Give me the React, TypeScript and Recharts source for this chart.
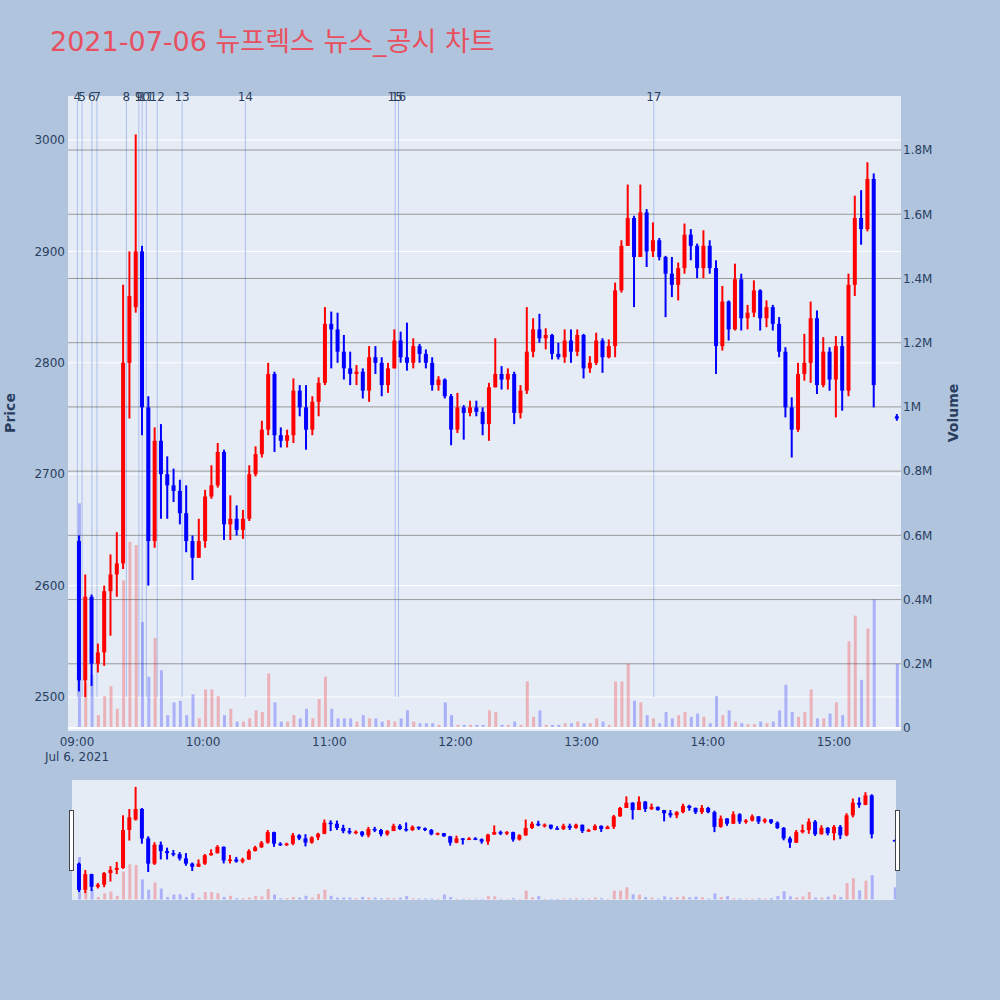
import React from 'react';
import {
  ComposedChart,
  Bar,
  XAxis,
  YAxis,
  CartesianGrid,
  ReferenceLine,
  ReferenceDot,
  Cell,
} from 'recharts';

// 3-minute buckets, stamped at the middle minute; last one is the 15:30 closing auction
const times = [
  '09:01', '09:04', '09:07', '09:10', '09:13', '09:16', '09:19', '09:22', '09:25', '09:28',
  '09:31', '09:34', '09:37', '09:40', '09:43', '09:46', '09:49', '09:52', '09:55', '09:58',
  '10:01', '10:04', '10:07', '10:10', '10:13', '10:16', '10:19', '10:22', '10:25', '10:28',
  '10:31', '10:34', '10:37', '10:40', '10:43', '10:46', '10:49', '10:52', '10:55', '10:58',
  '11:01', '11:04', '11:07', '11:10', '11:13', '11:16', '11:19', '11:22', '11:25', '11:28',
  '11:31', '11:34', '11:37', '11:40', '11:43', '11:46', '11:49', '11:52', '11:55', '11:58',
  '12:01', '12:04', '12:07', '12:10', '12:13', '12:16', '12:19', '12:22', '12:25', '12:28',
  '12:31', '12:34', '12:37', '12:40', '12:43', '12:46', '12:49', '12:52', '12:55', '12:58',
  '13:01', '13:04', '13:07', '13:10', '13:13', '13:16', '13:19', '13:22', '13:25', '13:28',
  '13:31', '13:34', '13:37', '13:40', '13:43', '13:46', '13:49', '13:52', '13:55', '13:58',
  '14:01', '14:04', '14:07', '14:10', '14:13', '14:16', '14:19', '14:22', '14:25', '14:28',
  '14:31', '14:34', '14:37', '14:40', '14:43', '14:46', '14:49', '14:52', '14:55', '14:58',
  '15:01', '15:04', '15:07', '15:10', '15:13', '15:16', '15:19',
  '15:30',
];

const opens = [
  2640, 2515, 2590, 2530, 2540, 2595, 2610, 2620, 2800, 2850,
  2900, 2760, 2640, 2730, 2700, 2690, 2685, 2665, 2640, 2625,
  2640, 2680, 2690, 2720, 2655, 2660, 2650, 2660, 2700, 2718,
  2740, 2790, 2735, 2730, 2735, 2775, 2760, 2740, 2765, 2782,
  2835, 2830, 2810, 2795, 2790, 2792, 2775, 2805, 2800, 2780,
  2795, 2820, 2805, 2800, 2815, 2808, 2800, 2780, 2785, 2770,
  2740, 2760, 2755, 2760, 2756, 2745, 2778, 2790, 2785, 2790,
  2755, 2775, 2810, 2830, 2822, 2825, 2808, 2805, 2820, 2810,
  2825, 2795, 2800, 2820, 2805, 2815, 2865, 2905, 2930, 2895,
  2935, 2900, 2910, 2895, 2880, 2870, 2885, 2915, 2905, 2885,
  2905, 2885, 2815, 2855, 2830, 2875, 2840, 2845, 2865, 2840,
  2850, 2835, 2810, 2760, 2740, 2790, 2800, 2840, 2780, 2810,
  2785, 2815, 2775, 2870, 2930, 2920, 2965,
  2752,
];

const highs = [
  2645, 2610, 2592, 2548, 2600, 2628, 2648, 2870, 2900, 3005,
  2905, 2770, 2742, 2745, 2716, 2705, 2695, 2690, 2645, 2660,
  2686, 2708, 2728, 2722, 2681, 2672, 2668, 2708, 2725, 2748,
  2800, 2792, 2742, 2740, 2786, 2780, 2780, 2770, 2787, 2850,
  2846, 2845, 2825, 2810, 2798, 2795, 2815, 2815, 2805, 2800,
  2830, 2828, 2836, 2822, 2817, 2812, 2805, 2788, 2786, 2772,
  2773, 2762, 2766, 2766, 2760, 2782, 2822, 2797, 2795, 2792,
  2780, 2850, 2840, 2844, 2831, 2826, 2818, 2830, 2830, 2830,
  2826, 2806, 2827, 2822, 2821, 2872, 2910, 2960, 2932, 2960,
  2938, 2926, 2912, 2896, 2895, 2890, 2925, 2920, 2907, 2919,
  2910, 2892, 2869, 2856, 2889, 2880, 2852, 2874, 2866, 2856,
  2852, 2841, 2814, 2769, 2800, 2826, 2855, 2847, 2823, 2814,
  2824, 2824, 2880, 2950, 2955, 2980, 2970,
  2754,
];

const lows = [
  2505, 2500, 2510, 2522, 2528, 2555, 2590, 2615, 2750, 2845,
  2735, 2600, 2634, 2660, 2660, 2675, 2655, 2630, 2605, 2625,
  2634, 2678, 2688, 2641, 2641, 2645, 2642, 2658, 2698, 2715,
  2735, 2720, 2724, 2724, 2728, 2752, 2722, 2735, 2752, 2780,
  2795, 2800, 2785, 2780, 2780, 2768, 2765, 2790, 2770, 2773,
  2795, 2800, 2793, 2795, 2800, 2795, 2775, 2775, 2768, 2726,
  2737, 2731, 2752, 2752, 2735, 2730, 2778, 2776, 2776, 2745,
  2750, 2772, 2805, 2818, 2812, 2803, 2803, 2800, 2800, 2806,
  2786, 2791, 2798, 2791, 2804, 2805, 2863, 2905, 2850, 2895,
  2886, 2895, 2892, 2841, 2859, 2856, 2880, 2892, 2876, 2876,
  2880, 2790, 2811, 2820, 2829, 2829, 2830, 2841, 2829, 2832,
  2829, 2805, 2751, 2715, 2738, 2784, 2782, 2772, 2778, 2775,
  2751, 2757, 2770, 2860, 2906, 2918, 2760,
  2748,
];

const closes = [
  2515, 2590, 2530, 2540, 2595, 2610, 2620, 2800, 2860, 2900,
  2760, 2640, 2730, 2700, 2690, 2685, 2665, 2640, 2625, 2640,
  2680, 2690, 2720, 2655, 2660, 2650, 2660, 2700, 2718, 2740,
  2790, 2735, 2730, 2735, 2775, 2760, 2740, 2765, 2782, 2835,
  2830, 2810, 2795, 2790, 2792, 2775, 2805, 2800, 2780, 2795,
  2820, 2805, 2800, 2815, 2808, 2800, 2780, 2785, 2770, 2740,
  2760, 2755, 2760, 2756, 2745, 2778, 2790, 2785, 2790, 2755,
  2775, 2810, 2830, 2822, 2825, 2808, 2805, 2820, 2810, 2825,
  2795, 2800, 2820, 2805, 2815, 2865, 2905, 2930, 2895, 2935,
  2900, 2910, 2895, 2880, 2870, 2885, 2915, 2905, 2885, 2905,
  2885, 2815, 2855, 2830, 2875, 2840, 2845, 2865, 2840, 2850,
  2835, 2810, 2760, 2740, 2790, 2800, 2840, 2780, 2810, 2785,
  2815, 2775, 2870, 2930, 2920, 2965, 2780,
  2750,
];

// per-minute volume typical of each bucket
const volumes = [
  700000, 140000, 165000, 40000, 100000, 130000, 60000, 460000, 580000, 570000,
  330000, 160000, 280000, 180000, 40000, 80000, 85000, 40000, 105000, 30000,
  120000, 120000, 100000, 40000, 60000, 20000, 20000, 30000, 55000, 50000,
  170000, 80000, 20000, 20000, 40000, 30000, 60000, 30000, 90000, 160000,
  60000, 30000, 30000, 30000, 20000, 40000, 30000, 30000, 20000, 25000,
  20000, 30000, 55000, 20000, 15000, 15000, 15000, 10000, 80000, 40000,
  10000, 10000, 10000, 10000, 10000, 55000, 50000, 10000, 10000, 20000,
  10000, 145000, 35000, 55000, 10000, 10000, 10000, 15000, 15000, 20000,
  15000, 15000, 30000, 20000, 10000, 145000, 145000, 200000, 85000, 80000,
  40000, 30000, 15000, 50000, 30000, 40000, 50000, 35000, 45000, 35000,
  15000, 100000, 40000, 55000, 20000, 15000, 12000, 12000, 20000, 15000,
  20000, 55000, 135000, 50000, 35000, 50000, 120000, 30000, 30000, 45000,
  80000, 40000, 270000, 350000, 150000, 310000, 400000,
  200000,
];

const markerLabels = ['4', '5', '6', '7', '8', '9', '10', '11', '12', '13', '14', '15', '16', '17'];
const markerTimes = [
  '09:00:10', '09:02:25', '09:07:05', '09:09:30', '09:23:30', '09:29:25', '09:31:00',
  '09:33:00', '09:38:10', '09:50:00', '10:20:05', '11:31:20', '11:32:55', '13:34:20',
];

const priceTicks = [2500, 2600, 2700, 2800, 2900, 3000];
const volumeTicks = [0, 200000, 400000, 600000, 800000, 1000000, 1200000, 1400000, 1600000, 1800000];
const timeTicks = ['09:00', '10:00', '11:00', '12:00', '13:00', '14:00', '15:00'];
const dateLabel = 'Jul 6, 2021';
const title = '2021-07-06 뉴프렉스 뉴스_공시 차트';

const FONT = '"DejaVu Sans", Verdana, "Noto Sans CJK KR", sans-serif';
const TEXT = '#2a3f5f';
const UP = '#ff0000';
const DOWN = '#0000ff';

// minutes after 09:00
function toMin(t: string): number {
  const [h, m, s] = t.split(':').map(Number);
  return (h - 9) * 60 + m + (s || 0) / 60;
}

const data = times.map((t, i) => ({
  t: toMin(t),
  o: opens[i],
  h: highs[i],
  l: lows[i],
  c: closes[i],
  v: volumes[i],
  up: closes[i] >= opens[i],
}));

const timeTickMins = timeTicks.map(toMin);
const markers = markerTimes.map((t, i) => ({ t: toMin(t), label: markerLabels[i] }));

const X_DOMAIN: [number, number] = [-4.28, 391.9];
const PRICE_DOMAIN: [number, number] = [2469.5, 3039.5];
const VOL_DOMAIN: [number, number] = [-9300, 1968300];
const MARGIN = { top: 96, right: 39, bottom: 239, left: 8 };

function fmtVol(v: number): string {
  if (v === 0) return '0';
  return `${+(v / 1e6).toFixed(1)}M`;
}

const Candle = (props: any) => {
  const { x, y, width, height, payload } = props;
  if (x == null || y == null || !payload) return null;
  const { o, h, l, c, up } = payload;
  const color = up ? UP : DOWN;
  const span = h - l;
  const hgt = Math.abs(height);
  const ppu = span > 0 ? hgt / span : 0;
  const top = Math.min(y, y + height);
  const bTop = top + (h - Math.max(o, c)) * ppu;
  const bBot = top + (h - Math.min(o, c)) * ppu;
  const cx = x + width / 2;
  return (
    <g>
      <line x1={cx} x2={cx} y1={top} y2={top + hgt} stroke={color} strokeWidth={2} />
      <rect x={x} y={bTop} width={width} height={Math.max(bBot - bTop, 1.5)} fill={color} />
    </g>
  );
};

const TimeTick = (props: any) => {
  const { x, y, payload } = props;
  const idx = timeTickMins.indexOf(payload.value);
  return (
    <g>
      <text x={x} y={y + 15} textAnchor="middle" fill={TEXT} fontSize={12} fontFamily={FONT}>
        {timeTicks[idx]}
      </text>
      {idx === 0 && (
        <text x={x} y={y + 30} textAnchor="middle" fill={TEXT} fontSize={12} fontFamily={FONT}>
          {dateLabel}
        </text>
      )}
    </g>
  );
};

const tickStyle = { fill: TEXT, fontSize: 12, fontFamily: FONT };

const layer: React.CSSProperties = { position: 'absolute', left: 0, top: 0 };

export default function App() {
  return (
    <div style={{ position: 'absolute', left: 0, top: 0, width: 1000, height: 1000, background: '#b0c4de', overflow: 'hidden' }}>
      {/* grid, axes, volume and news markers */}
      <div style={layer}>
        <ComposedChart width={1000} height={1000} data={data} margin={MARGIN}>
          <CartesianGrid yAxisId="price" vertical={false} horizontalValues={priceTicks} stroke="#ffffff" fill="#e5ecf6" fillOpacity={1} />
          <CartesianGrid yAxisId="vol" vertical={false} horizontalValues={volumeTicks.slice(1)} stroke="#999999" />
          <XAxis
            dataKey="t"
            type="number"
            domain={X_DOMAIN}
            allowDataOverflow
            ticks={timeTickMins}
            interval={0}
            tick={<TimeTick />}
            tickLine={false}
            axisLine={false}
            tickSize={0}
            tickMargin={0}
            height={30} />
          <YAxis
            yAxisId="price"
            orientation="left"
            domain={PRICE_DOMAIN}
            allowDataOverflow
            ticks={priceTicks}
            interval={0}
            width={60}
            tick={tickStyle}
            tickLine={false}
            axisLine={false}
            tickSize={0}
            tickMargin={3} />
          <YAxis
            yAxisId="vol"
            orientation="right"
            domain={VOL_DOMAIN}
            allowDataOverflow
            ticks={volumeTicks}
            interval={0}
            width={60}
            tick={{ ...tickStyle, textAnchor: 'start' }}
            tickFormatter={fmtVol}
            tickLine={false}
            axisLine={false}
            tickSize={0}
            tickMargin={2} />
          <ReferenceLine yAxisId="vol" y={0} stroke="#ffffff" strokeWidth={2} />
          <Bar yAxisId="vol" dataKey="v" barSize={3} isAnimationActive={false}>
            {data.map((d, i) => (
              <Cell key={i} fill={d.up ? UP : DOWN} fillOpacity={0.25} />
            ))}
          </Bar>
          {markers.map((m) => (
            <ReferenceLine
              key={`ml${m.label}`}
              yAxisId="price"
              segment={[{ x: m.t, y: 2500 }, { x: m.t, y: 3035 }]}
              stroke="#4169e1"
              strokeOpacity={0.35}
              strokeWidth={1} />
          ))}
          {markers.map((m) => (
            <ReferenceDot
              key={`md${m.label}`}
              yAxisId="price"
              x={m.t}
              y={3039.5}
              r={0}
              ifOverflow="visible"
              shape={(p: any) => (
                <text x={p.cx} y={p.cy + 5} textAnchor="middle" fill={TEXT} fontSize={12} fontFamily={FONT}>
                  {m.label}
                </text>
              )} />
          ))}
        </ComposedChart>
      </div>

      {/* candles on top */}
      <div style={layer}>
        <ComposedChart width={1000} height={1000} data={data} margin={MARGIN}>
          <XAxis dataKey="t" type="number" domain={X_DOMAIN} allowDataOverflow tick={false} tickLine={false} axisLine={false} height={30} />
          <YAxis yAxisId="price" orientation="left" domain={PRICE_DOMAIN} allowDataOverflow tick={false} tickLine={false} axisLine={false} width={60} />
          <YAxis yAxisId="vol" orientation="right" domain={VOL_DOMAIN} allowDataOverflow tick={false} tickLine={false} axisLine={false} width={60} />
          <Bar
            yAxisId="price"
            dataKey={(d: any) => [d.l, d.h]}
            barSize={4}
            shape={<Candle />}
            isAnimationActive={false} />
        </ComposedChart>
      </div>

      {/* range slider */}
      <div style={{ position: 'absolute', left: 72, top: 780, width: 824, height: 120, background: '#e5ecf6' }} />
      <div style={{ position: 'absolute', left: 72, top: 780 }}>
        <ComposedChart width={824} height={120} data={data} margin={{ top: 0, right: 0, bottom: 0, left: 0 }}>
          <XAxis dataKey="t" type="number" domain={[-2.4, 390.5]} allowDataOverflow hide />
          <YAxis yAxisId="vol" domain={VOL_DOMAIN} allowDataOverflow hide />
          <Bar yAxisId="vol" dataKey="v" barSize={3} isAnimationActive={false}>
            {data.map((d, i) => (
              <Cell key={i} fill={d.up ? UP : DOWN} fillOpacity={0.25} />
            ))}
          </Bar>
        </ComposedChart>
      </div>
      <div style={{ position: 'absolute', left: 72, top: 780 }}>
        <ComposedChart width={824} height={120} data={data} margin={{ top: 0, right: 0, bottom: 0, left: 0 }}>
          <XAxis dataKey="t" type="number" domain={[-2.4, 390.5]} allowDataOverflow hide />
          <YAxis yAxisId="price" domain={[2467, 3038]} allowDataOverflow hide />
          <Bar
            yAxisId="price"
            dataKey={(d: any) => [d.l, d.h]}
            barSize={4}
            shape={<Candle />}
            isAnimationActive={false} />
        </ComposedChart>
      </div>
      <div style={{ position: 'absolute', left: 69, top: 810, width: 3, height: 59, background: '#fff', border: '1px solid #444' }} />
      <div style={{ position: 'absolute', left: 895, top: 810, width: 3, height: 59, background: '#fff', border: '1px solid #444' }} />

      {/* titles */}
      <svg width={1000} height={1000} style={{ position: 'absolute', left: 0, top: 0, pointerEvents: 'none' }}>
        <text x={50} y={51} fill="#e8505f" fontSize={27} fontFamily={FONT}>{title}</text>
        <text transform="translate(15,413) rotate(-90)" textAnchor="middle" fill={TEXT} fontSize={14} fontWeight="bold" fontFamily={FONT}>
          Price
        </text>
        <text transform="translate(958,413) rotate(-90)" textAnchor="middle" fill={TEXT} fontSize={14} fontWeight="bold" fontFamily={FONT}>
          Volume
        </text>
      </svg>
    </div>
  );
}
